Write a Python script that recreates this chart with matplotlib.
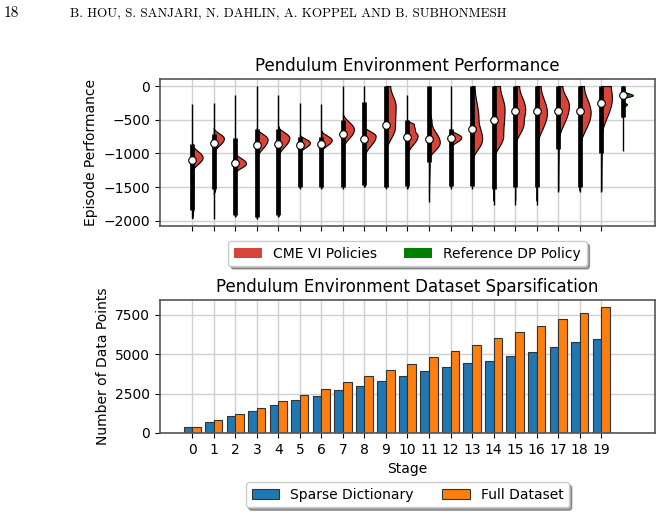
import numpy as np
import matplotlib
matplotlib.use('Agg')
import matplotlib.pyplot as plt
from matplotlib.patches import Patch

# ---- sparsification data (bottom panel) ----
stages = list(range(20))
sparse_counts = [360, 715, 1050, 1405, 1785, 2060, 2375, 2750, 2985, 3300,
                 3615, 3930, 4180, 4455, 4580, 4895, 5145, 5440, 5775, 5965]
full_counts = [400, 800, 1200, 1600, 2000, 2400, 2800, 3200, 3600, 4000,
               4400, 4800, 5200, 5600, 6000, 6400, 6800, 7200, 7600, 8000]

# ---- performance summaries (top panel), stages 0..19 then reference DP ----
whisk_hi = [-268, -254, -132, 0, -132, -254, -263, 0, 0, 0,
            -137, 0, 0, 0, 0, 0, 0, 0, 0, 0, 0]
box_hi = [-863, -717, -766, -644, -644, -756, -756, -498, -244, 0,
          -505, 0, -637, 0, 0, 0, 0, 0, 0, 0, 0]
medians = [-1102, -844, -1146, -868, -863, -878, -859, -717, -790, -585,
           -755, -784, -764, -637, -500, -372, -372, -363, -368, -245, -137]
box_lo = [-1839, -1522, -1912, -1937, -1912, -1498, -1498, -1498, -1473, -1498,
          -1480, -1127, -1480, -1480, -1519, -1495, -1495, -930, -1495, -1000, -466]
whisk_lo = [-1961, -1965, -1937, -1971, -1937, -1522, -1522, -1522, -1498, -1522,
            -1519, -1715, -1519, -1519, -1764, -1764, -1764, -1568, -1568, -1568, -956]

# half-violin outline: (performance, half width)
profiles = [
    [(-860, 0), (-1058, 0.48), (-1250, 0.05), (-1500, 0.05), (-1850, 0.04), (-1960, 0)],
    [(-620, 0), (-776, 0.47), (-985, 0.03), (-1500, 0.03), (-1545, 0.06), (-1600, 0)],
    [(-985, 0), (-1146, 0.5), (-1280, 0.03), (-1930, 0)],
    [(-620, 0), (-790, 0.5), (-1060, 0.03), (-1960, 0)],
    [(-595, 0), (-766, 0.51), (-1035, 0.03), (-1930, 0)],
    [(-717, 0), (-839, 0.47), (-985, 0.03), (-1510, 0)],
    [(-659, 0), (-800, 0.48), (-961, 0.03), (-1510, 0)],
    [(-400, 0), (-644, 0.51), (-912, 0.03), (-1510, 0)],
    [(-595, 0), (-741, 0.52), (-1034, 0.03), (-1490, 0)],
    [(0, 0.2), (-300, 0.45), (-600, 0.42), (-961, 0.02), (-1510, 0)],
    [(-505, 0), (-570, 0.3), (-660, 0.35), (-735, 0.47), (-1005, 0.02), (-1510, 0)],
    [(-318, 0), (-540, 0.12), (-833, 0.5), (-1078, 0.03), (-1600, 0)],
    [(-637, 0), (-760, 0.5), (-907, 0.03), (-1490, 0)],
    [(0, 0.12), (-490, 0.3), (-784, 0.47), (-1103, 0.03), (-1490, 0)],
    [(0, 0.3), (-343, 0.51), (-735, 0.45), (-1078, 0.03), (-1700, 0)],
    [(0, 0.19), (-343, 0.47), (-539, 0.4), (-882, 0.02), (-1700, 0)],
    [(0, 0.19), (-392, 0.48), (-907, 0.02), (-1700, 0)],
    [(0, 0.2), (-294, 0.5), (-833, 0.02), (-1550, 0)],
    [(0, 0.2), (-392, 0.51), (-907, 0.02), (-1550, 0)],
    [(0, 0.45), (-171, 0.5), (-760, 0.02), (-1550, 0)],
    [(0, 0.05), (-73, 0.03), (-137, 0.47), (-186, 0.04), (-235, 0.03),
     (-270, 0.2), (-318, 0.02), (-466, 0)],
]

RED = '#d8433a'
GREEN = '#008000'


def half_width(knots, yy):
    # smooth (cosine) easing between the read-off knots
    out = np.zeros_like(yy)
    for (y0, w0), (y1, w1) in zip(knots[:-1], knots[1:]):
        m = (yy <= y0) & (yy >= y1)
        t = (y0 - yy[m]) / (y0 - y1)
        out[m] = w0 + (w1 - w0) * (1 - np.cos(np.pi * t)) / 2
    return out


def style_axes(ax):
    ax.grid(True, color='#d0d0d0', linewidth=1.0)
    ax.set_axisbelow(True)
    for s in ax.spines.values():
        s.set_color('#555555')
        s.set_linewidth(1.2)
    ax.tick_params(labelsize=10)


def main():
    fig = plt.figure(figsize=(6.63, 5.16), dpi=100)

    fig.text(0.006, 0.975, '18', family='cmr10', fontsize=11, va='center')
    fig.text(0.105, 0.975, 'B. HOU, S. SANJARI, N. DAHLIN, A. KOPPEL AND B. SUBHONMESH',
             family='cmr10', fontsize=9.45, va='center')

    # top: violins
    ax1 = fig.add_axes([0.2413, 0.562, 0.7466, 0.285])
    style_axes(ax1)
    for i, knots in enumerate(profiles):
        color = GREEN if i == len(profiles) - 1 else RED
        yy = np.linspace(knots[0][0], knots[-1][0], 400)
        w = half_width(knots, yy)
        ax1.fill_betweenx(yy, i, i + w, facecolor=color, edgecolor='black',
                          linewidth=0.8, zorder=2)
        ax1.vlines(i, whisk_lo[i], whisk_hi[i], color='black', linewidth=1.0, zorder=3)
        ax1.vlines(i, box_lo[i], box_hi[i], color='black', linewidth=3.4, zorder=3)
        ax1.scatter([i], [medians[i]], s=30, c='white', edgecolors='black',
                    linewidths=0.8, zorder=4)
    ax1.set_xlim(-1.5, 21.5)
    ax1.set_ylim(-2075, 105)
    ax1.set_xticks(stages)
    ax1.set_xticklabels([])
    ax1.set_yticks([0, -500, -1000, -1500, -2000])
    ax1.set_ylabel('Episode Performance', fontsize=10)
    ax1.set_title('Pendulum Environment Performance', fontsize=12)
    handles = [Patch(facecolor=RED, label='CME VI Policies'),
               Patch(facecolor=GREEN, label='Reference DP Policy')]
    ax1.legend(handles=handles, loc='upper center', bbox_to_anchor=(0.5, -0.055),
               ncol=2, shadow=True, fontsize=10)

    # bottom: bars
    ax2 = fig.add_axes([0.2413, 0.1609, 0.7466, 0.2568])
    style_axes(ax2)
    x = np.array(stages)
    ax2.bar(x - 0.2, sparse_counts, width=0.4, color='#1f77b4', edgecolor='#333333',
            linewidth=0.8, label='Sparse Dictionary')
    ax2.bar(x + 0.2, full_counts, width=0.4, color='#ff7f0e', edgecolor='#333333',
            linewidth=0.8, label='Full Dataset')
    ax2.set_xlim(-1.5, 21.5)
    ax2.set_ylim(0, 8400)
    ax2.set_xticks(stages)
    ax2.set_xticklabels([str(s) for s in stages])
    ax2.set_yticks([0, 2500, 5000, 7500])
    ax2.set_xlabel('Stage', fontsize=10)
    ax2.set_ylabel('Number of Data Points', fontsize=10)
    ax2.set_title('Pendulum Environment Dataset Sparsification', fontsize=12)
    ax2.legend(loc='upper center', bbox_to_anchor=(0.5, -0.32), ncol=2,
               shadow=True, fontsize=10)

    fig.savefig('out.png', dpi=100)


if __name__ == '__main__':
    main()
